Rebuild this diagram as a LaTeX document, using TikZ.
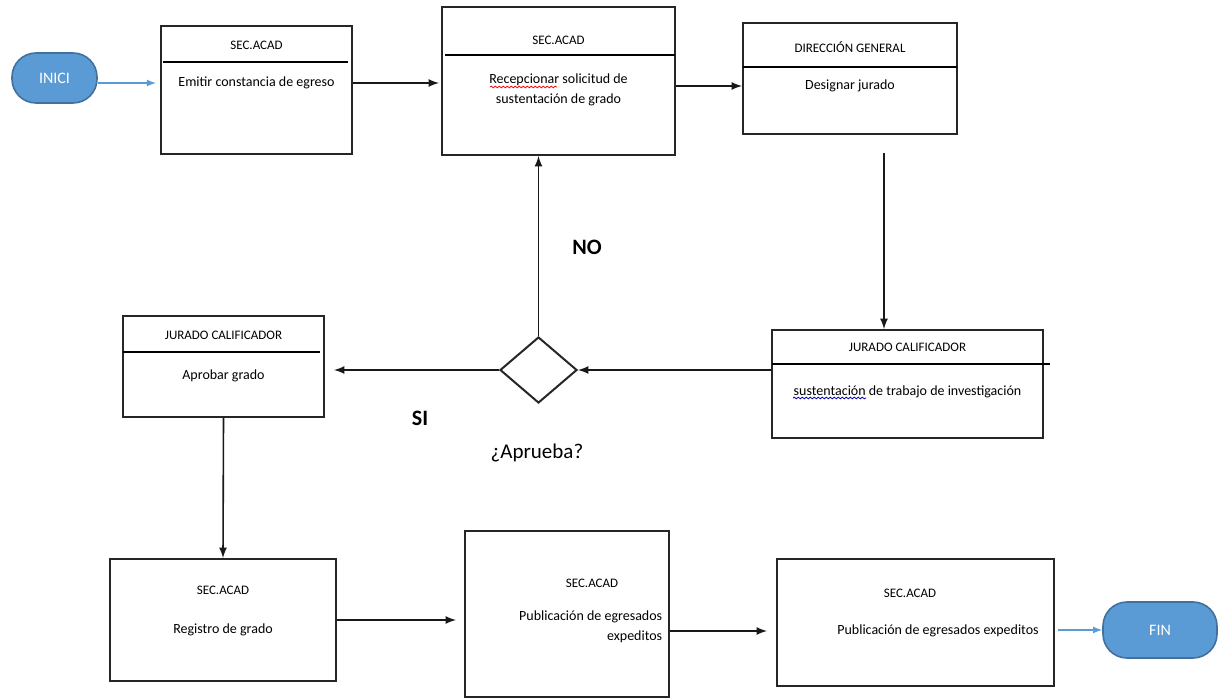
\documentclass[tikz,border=0pt]{standalone}
\usepackage{fontspec}
\setmainfont{Carlito}
\usetikzlibrary{shapes.geometric,decorations.pathmorphing}

\definecolor{termfill}{HTML}{5B9BD5}
\definecolor{termdraw}{HTML}{41719C}

\begin{document}
\begin{tikzpicture}[x=0.5pt,y=-0.5pt,line width=0.8pt]
    \tikzstyle{box}=[rectangle,draw=black!85,line width=1pt,inner sep=0pt]
    \tikzstyle{title}=[font=\fontsize{6.5}{8}\selectfont,inner sep=0pt]
    \tikzstyle{body}=[font=\fontsize{7}{10}\selectfont,inner sep=0pt,align=center]
    \tikzstyle{term}=[rectangle,rounded corners=12pt,fill=termfill,draw=termdraw,line width=0.8pt,
        text=white,font=\fontsize{8}{9}\selectfont,inner sep=0pt]
    \tikzstyle{arr}=[->,>=latex,draw=black!90]
    \tikzstyle{bluearr}=[->,>=latex,draw=termfill,line width=0.6pt]
    \tikzstyle{lbl}=[font=\fontsize{11}{12}\selectfont\bfseries,inner sep=0pt]
    \useasboundingbox (0,0) rectangle (1219,699);
    % Draw the terminals
    \node[term,minimum width=42.5pt,minimum height=25pt] (ini) at (54.5,78) {INICI};
    \node[term,minimum width=57pt,minimum height=28pt] (fin) at (1160,630) {FIN};
    % Draw the top row
    \node[box,minimum width=95.5pt,minimum height=64pt] (b1) at (256.5,90) {};
    \node[title] (b1h) at (256.5,45) {SEC.ACAD};
    \node[body] (b1t) at (256.5,83) {Emitir constancia de egreso};
    \draw (163,62) -- (348,62);
    \node[box,minimum width=116.5pt,minimum height=74pt] (b2) at (558.5,81) {};
    \node[title] (b2h) at (558.5,40) {SEC.ACAD};
    \node[body] (b2t) at (558.5,90) {Recepcionar solicitud de\\sustentación de grado};
    \draw (445,55) -- (675,55);
    \draw[red,decorate,decoration={snake,amplitude=0.4pt,segment length=2pt},line width=0.4pt] (490,87) -- (557,87);
    \node[box,minimum width=107pt,minimum height=55.5pt] (b3) at (850,78.5) {};
    \node[title] (b3h) at (850,47) {DIRECCIÓN GENERAL};
    \node[body] (b3t) at (850,86) {Designar jurado};
    \draw (743,67) -- (957,67);
    % Draw the middle row
    \node[box,minimum width=135.5pt,minimum height=54pt] (b4) at (907.5,384) {};
    \node[title] (b4h) at (907.5,347) {JURADO CALIFICADOR};
    \node[body] (b4t) at (907.5,392) {sustentación de trabajo de investigación};
    \draw (772,364) -- (1050,364);
    \draw[blue!70!black,decorate,decoration={snake,amplitude=0.4pt,segment length=2pt},line width=0.4pt] (793,398) -- (866,398);
    \node[diamond,aspect=1.17,draw=black!85,line width=1pt,minimum width=38.5pt,minimum height=33pt,inner sep=0pt] (dec) at (538.5,370) {};
    \node[font=\fontsize{10.5}{12}\selectfont,inner sep=0pt] (decl) at (537,453) {¿Aprueba?};
    \node[box,minimum width=100.5pt,minimum height=50.5pt] (b5) at (223.5,366.5) {};
    \node[title] (b5h) at (223.5,335) {JURADO CALIFICADOR};
    \node[body] (b5t) at (223.5,376) {Aprobar grado};
    \draw (123,352) -- (320,352);
    \node[lbl] (no) at (587,247) {NO};
    \node[lbl] (si) at (420,418) {SI};
    % Draw the bottom row
    \node[box,minimum width=113pt,minimum height=61pt] (b6) at (223,620) {};
    \node[title] (b6h) at (223,590) {SEC.ACAD};
    \node[body] (b6t) at (223,630) {Registro de grado};
    \node[box,minimum width=102pt,minimum height=83pt] (b7) at (567,614) {};
    \node[title] (b7h) at (592,583) {SEC.ACAD};
    \node[body,align=right,anchor=east] (b7t) at (663,627) {Publicación de egresados\\expeditos};
    \node[box,minimum width=138.5pt,minimum height=63.5pt] (b8) at (915.5,622.5) {};
    \node[title] (b8h) at (910,593) {SEC.ACAD};
    \node[body] (b8t) at (938,631) {Publicación de egresados expeditos};
    % Draw the connectors
    \draw[bluearr,shorten >=2pt] (ini.east |- b1t) -- (b1t -| b1.west);
    \draw[arr,shorten >=1pt] (b1t -| b1.east) -- (b1t -| b2.west);
    \draw[arr] (b3t -| b2.east) -- (b3t -| b3.west);
    \coordinate (d1) at (884,153);
    \draw[arr] (d1) -- (d1 |- b4.north);
    \draw[arr] (dec.east -| b4.west) -- (dec.east);
    \draw[arr,shorten >=4.5pt] (dec.west) -- (dec.west -| b5.east);
    \draw[arr] (dec.north) -- (dec.north |- b2.south);
    \draw[arr] (b5.south) -- (b6.north);
    \draw[arr,shorten >=4pt] (b6.east) -- (b6.east -| b7.west);
    \draw[arr,shorten >=4.5pt] (b8t -| b7.east) -- (b8t -| b8.west);
    \draw[bluearr,shorten <=1.5pt] (fin.west -| b8.east) -- (fin.west);
\end{tikzpicture}
\end{document}
